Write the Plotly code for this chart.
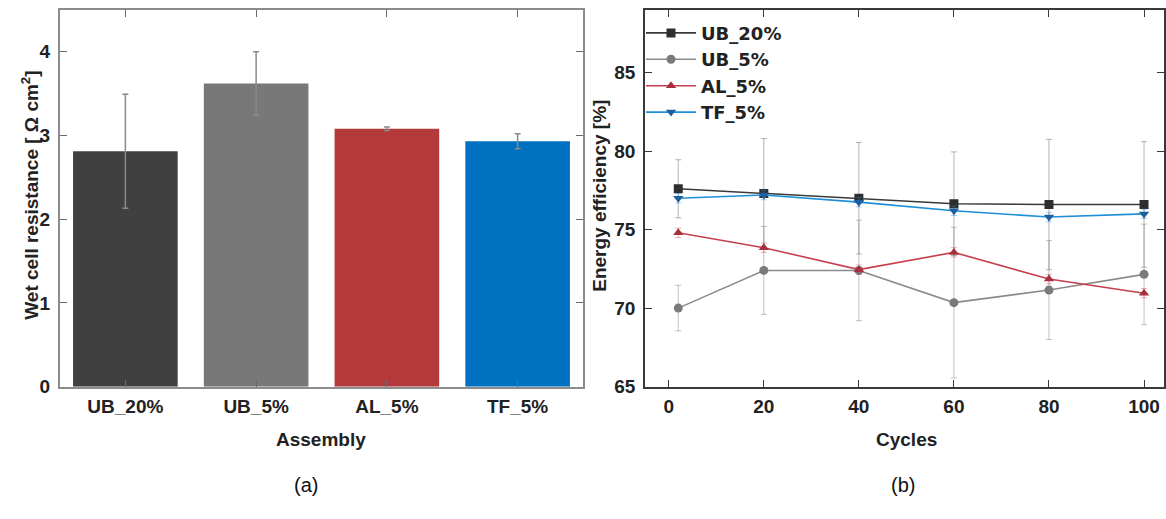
import plotly.graph_objects as go

# ---- data: panel (a)
assemblies = ["UB_20%", "UB_5%", "AL_5%", "TF_5%"]
resistance = [2.81, 3.62, 3.08, 2.93]
resistance_err = [0.68, 0.38, 0.02, 0.09]
bar_colors = ["#404040", "#787878", "#b3393a", "#0070c0"]

# ---- data: panel (b)
cycles = [2, 20, 40, 60, 80, 100]
ub20 = [77.6, 77.3, 77.0, 76.65, 76.6, 76.6]
ub20_err = [1.85, 3.5, 3.55, 3.3, 4.15, 4.0]
ub5 = [70.0, 72.4, 72.4, 70.35, 71.15, 72.15]
ub5_err = [1.45, 2.8, 3.2, 4.8, 3.15, 3.2]
al5 = [74.8, 73.85, 72.45, 73.55, 71.85, 70.95]
al5_err = [0.3, 0.3, 0.3, 0.3, 0.3, 0.3]
tf5 = [77.0, 77.2, 76.75, 76.2, 75.8, 76.0]
tf5_err = [0.3, 0.3, 0.3, 0.3, 0.3, 0.3]

W, H = 1166, 519
FONT = "Liberation Sans"

def px(x):
    return x / W

def py(y):
    return 1 - y / H

fig = go.Figure()

fig.add_trace(go.Bar(
    x=assemblies, y=resistance,
    marker=dict(color=bar_colors, line=dict(width=0)),
    error_y=dict(type="data", array=resistance_err, color="#8a8a8a",
                 thickness=1.5, width=3),
    xaxis="x", yaxis="y", showlegend=False,
))

series = [
    ("UB_20%", ub20, ub20_err, "#3a3a3a", "#2e2e2e", "square", "rgba(90,90,90,0.45)"),
    ("UB_5%", ub5, ub5_err, "#8a8a8a", "#7a7a7a", "circle", "rgba(120,120,120,0.45)"),
    ("AL_5%", al5, al5_err, "#c8404f", "#a8303c", "triangle-up", "rgba(200,64,79,0.4)"),
    ("TF_5%", tf5, tf5_err, "#1d8fd8", "#1f5f9f", "triangle-down", "rgba(29,143,216,0.4)"),
]
for name, vals, err, lc, mc, sym, ec in series:
    fig.add_trace(go.Scatter(
        x=cycles, y=vals, name=name, mode="lines+markers",
        line=dict(color=lc, width=1.6),
        marker=dict(symbol=sym, size=9, color=mc),
        error_y=dict(type="data", array=err, color=ec, thickness=1, width=3),
        xaxis="x2", yaxis="y2",
    ))

tickfont = dict(family=FONT, size=19, color="#222222", weight="bold")
ax_common = dict(showgrid=False, zeroline=False, showline=True, mirror="ticks",
                 ticks="inside", ticklen=7, tickfont=tickfont)

fig.update_layout(
    width=W, height=H,
    margin=dict(l=0, r=0, t=0, b=0),
    paper_bgcolor="white", plot_bgcolor="white",
    bargap=0.2,
    xaxis=dict(domain=[px(60), px(583)], anchor="y", range=[-0.5, 3.5],
               linecolor="#8c8c8c", linewidth=2, tickcolor="#6a6a6a",
               ticklabelstandoff=2, **ax_common),
    yaxis=dict(domain=[py(395), py(10)], anchor="x", range=[0, 4.5],
               tickvals=[0, 1, 2, 3, 4],
               linecolor="#8c8c8c", linewidth=2, tickcolor="#6a6a6a",
               ticklabelstandoff=4, **ax_common),
    xaxis2=dict(domain=[px(645), px(1164)], anchor="y2", range=[-5, 104.2],
                tickvals=[0, 20, 40, 60, 80, 100],
                linecolor="#3a3a3a", linewidth=1.5, tickcolor="#3a3a3a",
                ticklabelstandoff=2, **ax_common),
    yaxis2=dict(domain=[py(395), py(10)], anchor="x2", range=[65, 89],
                tickvals=[65, 70, 75, 80, 85],
                linecolor="#3a3a3a", linewidth=1.5, tickcolor="#3a3a3a",
                ticklabelstandoff=4, **ax_common),
    legend=dict(x=px(641), y=py(15), xanchor="left", yanchor="top",
                bgcolor="rgba(0,0,0,0)", itemwidth=50,
                font=dict(family="DejaVu Sans", size=18, color="#222222", weight="bold"),
                tracegroupgap=0),
)

title_font = dict(family=FONT, size=19, color="#222222", weight="bold")
annotations = [
    dict(text="Wet cell resistance [\u00a0Ω cm<sup>2</sup>]", x=px(30), y=py(200),
         textangle=-90, font=title_font),
    dict(text="Energy efficiency [%]", x=px(600), y=py(200),
         textangle=-90, font=title_font),
    dict(text="Assembly", x=px(321), y=py(449), font=title_font),
    dict(text="Cycles", x=px(906), y=py(449), font=title_font),
    dict(text="(a)", x=px(306), y=py(496),
         font=dict(family="Liberation Sans", size=20, color="#111111")),
    dict(text="(b)", x=px(903), y=py(496),
         font=dict(family="Liberation Sans", size=20, color="#111111")),
]
for a in annotations:
    a.update(xref="paper", yref="paper", showarrow=False,
             xanchor="center", yanchor="middle")
fig.update_layout(annotations=annotations)

# remove the default page margin so the 1166x519 figure fills the window exactly
fig.write_html("out.html",
               config={"displayModeBar": False},
               post_script="document.body.style.margin='0';"
                           "document.body.style.overflow='hidden';")
